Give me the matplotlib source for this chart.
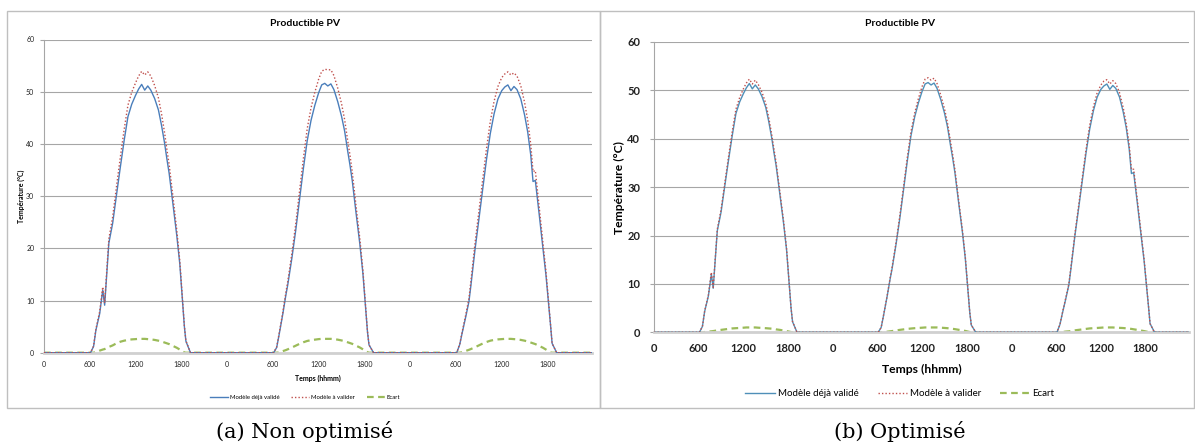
import numpy as np
import matplotlib
matplotlib.use('agg')
import matplotlib.pyplot as plt
from matplotlib.patches import Rectangle

# heures de la journee (meme grille pour les 3 jours)
heures = [0, 6.1, 6.5, 6.8, 7.3, 7.7, 7.95, 8.5, 9.0, 9.5, 10.0, 10.5, 11.0, 11.5, 12.0, 12.4, 12.8,
          13.2, 13.6, 14.0, 14.5, 15.0, 15.4, 15.8, 16.1, 16.4, 16.9, 17.4, 17.8, 18.4, 18.6, 19.2, 24]

# modele deja valide (identique dans les deux graphes)
valide_j1 = [0, 0, 1.2, 4.3, 7.5, 12.0, 9.1, 21.0, 24.8, 30.2, 35.5, 40.6, 45.2, 47.6, 49.3, 50.5, 51.4,
             50.3, 51.1, 50.3, 48.7, 46.5, 43.6, 40.2, 37.2, 34.4, 28.5, 22.5, 17.0, 5.0, 2.2, 0, 0]
valide_j2 = [0, 0, 1.0, 3.3, 7.4, 11.0, 13.0, 18.2, 23.5, 29.4, 35.3, 40.6, 44.5, 47.4, 49.8, 51.3, 51.6,
             51.1, 51.5, 50.4, 48.1, 45.3, 42.5, 38.7, 36.0, 33.0, 26.8, 20.8, 15.2, 4.0, 1.5, 0, 0]
valide_j3 = [0, 0, 1.6, 3.7, 7.0, 9.8, 12.8, 19.8, 25.5, 31.3, 37.0, 42.0, 45.8, 48.6, 50.2, 50.9, 51.3,
             50.2, 51.0, 50.4, 48.6, 45.5, 42.3, 37.9, 32.8, 33.0, 26.6, 20.0, 14.8, 5.2, 1.8, 0, 0]

# (a) non optimise
avalider_a_j1 = [0, 0, 1.3, 4.5, 7.9, 12.6, 9.5, 21.8, 26.0, 31.8, 37.4, 42.7, 47.4, 49.9, 51.7, 53.0, 53.9,
                 53.2, 53.8, 53.0, 51.2, 48.8, 45.8, 42.2, 39.0, 36.1, 29.9, 23.5, 17.6, 5.1, 2.3, 0, 0]
avalider_a_j2 = [0, 0, 1.1, 3.5, 7.7, 11.5, 13.6, 19.1, 24.7, 31.0, 37.2, 42.9, 46.9, 49.9, 52.4, 53.9, 54.3,
                 54.2, 54.2, 53.1, 50.7, 47.7, 44.7, 40.7, 37.9, 34.7, 28.1, 21.8, 15.8, 4.1, 1.5, 0, 0]
avalider_a_j3 = [0, 0, 1.7, 3.9, 7.4, 10.4, 13.6, 21.0, 27.0, 33.1, 39.1, 44.3, 48.2, 51.0, 52.7, 53.4, 53.8,
                 53.2, 53.6, 53.0, 51.1, 47.9, 44.5, 39.9, 34.7, 34.9, 28.0, 21.0, 15.5, 5.3, 1.8, 0, 0]
ecart_a_j1 = [0, 0, 0, 0.1, 0.4, 0.6, 0.7, 1.1, 1.4, 1.8, 2.1, 2.3, 2.45, 2.55, 2.6, 2.65, 2.65,
              2.65, 2.6, 2.55, 2.45, 2.3, 2.15, 1.95, 1.8, 1.65, 1.3, 0.95, 0.6, 0.05, 0, 0, 0]
ecart_a_j2 = [0, 0, 0, 0.05, 0.3, 0.5, 0.65, 1.0, 1.35, 1.7, 2.0, 2.25, 2.4, 2.5, 2.6, 2.65, 2.65,
              2.65, 2.65, 2.6, 2.5, 2.35, 2.2, 2.0, 1.85, 1.7, 1.35, 1.0, 0.65, 0.1, 0, 0, 0]
ecart_a_j3 = [0, 0, 0, 0.1, 0.35, 0.55, 0.7, 1.05, 1.4, 1.75, 2.05, 2.3, 2.45, 2.55, 2.6, 2.65, 2.65,
              2.65, 2.6, 2.55, 2.45, 2.3, 2.15, 1.95, 1.8, 1.65, 1.3, 0.95, 0.6, 0.05, 0, 0, 0]

# (b) optimise
avalider_b_j1 = [0, 0, 1.2, 4.4, 7.7, 12.4, 9.3, 21.3, 25.3, 30.8, 36.2, 41.4, 46.1, 48.5, 50.3, 51.5, 52.3,
                 51.3, 52.1, 51.2, 49.6, 47.3, 44.4, 40.9, 37.9, 35.0, 29.0, 22.9, 17.3, 5.0, 2.2, 0, 0]
avalider_b_j2 = [0, 0, 1.0, 3.4, 7.5, 11.2, 13.3, 18.6, 24.0, 30.0, 36.0, 41.4, 45.3, 48.3, 50.8, 52.3, 52.6,
                 52.1, 52.5, 51.4, 49.0, 46.2, 43.3, 39.5, 36.7, 33.6, 27.3, 21.2, 15.5, 4.1, 1.5, 0, 0]
avalider_b_j3 = [0, 0, 1.6, 3.8, 7.2, 10.0, 13.1, 20.2, 26.0, 31.9, 37.7, 42.8, 46.6, 49.5, 51.1, 51.9, 52.2,
                 51.3, 52.0, 51.4, 49.5, 46.4, 43.1, 38.7, 33.6, 33.7, 27.2, 20.5, 15.1, 5.3, 1.8, 0, 0]
ecart_b_j1 = [0, 0, 0, 0.05, 0.15, 0.2, 0.25, 0.4, 0.5, 0.6, 0.7, 0.8, 0.85, 0.9, 0.95, 1.0, 1.0,
              1.0, 1.0, 0.95, 0.9, 0.85, 0.8, 0.75, 0.7, 0.6, 0.5, 0.35, 0.25, 0.05, 0, 0, 0]
ecart_b_j2 = [0, 0, 0, 0.05, 0.12, 0.2, 0.25, 0.38, 0.5, 0.6, 0.7, 0.78, 0.85, 0.9, 0.95, 1.0, 1.0,
              1.0, 1.0, 1.0, 0.95, 0.9, 0.85, 0.78, 0.72, 0.65, 0.52, 0.4, 0.28, 0.05, 0, 0, 0]
ecart_b_j3 = [0, 0, 0, 0.05, 0.15, 0.2, 0.25, 0.4, 0.5, 0.6, 0.7, 0.8, 0.85, 0.9, 0.95, 1.0, 1.0,
              1.0, 1.0, 0.95, 0.92, 0.88, 0.82, 0.76, 0.7, 0.62, 0.5, 0.36, 0.25, 0.05, 0, 0, 0]

tick_pos = [0, 6, 12, 18, 24, 30, 36, 42, 48, 54, 60, 66]
tick_lab = ['0', '600', '1200', '1800'] * 3

W, H = 1195, 446
plt.rcParams['font.family'] = ['Lato', 'DejaVu Sans']

fig = plt.figure(figsize=(W / 100, H / 100), dpi=100)


def rect(x0, y0, x1, y1):
    return [x0 / W, 1 - y1 / H, (x1 - x0) / W, (y1 - y0) / H]


def jours(*listes):
    return np.concatenate([np.array(l) for l in listes])


t = np.concatenate([np.array(heures) + 24 * d for d in range(3)])
valide = jours(valide_j1, valide_j2, valide_j3)

panels = [
    dict(box=(7, 11, 600, 408), ax=(44, 39.5, 592, 352.7), red=jours(avalider_a_j1, avalider_a_j2, avalider_a_j3),
         ecart=jours(ecart_a_j1, ecart_a_j2, ecart_a_j3), blue='#4A7EBB', tick_fs=5, tick_w='normal',
         lab_fs=5, pad_x=6, pad_y=4, ylab_x=21, xlab_y=378, leg_fs=4.3, leg_y=397, cx=305,
         caption='(a) Non optimisé'),
    dict(box=(600, 11, 1194, 408), ax=(654, 41.9, 1189, 332.3), red=jours(avalider_b_j1, avalider_b_j2, avalider_b_j3),
         ecart=jours(ecart_b_j1, ecart_b_j2, ecart_b_j3), blue='#4F8FB8', tick_fs=8, tick_w='bold',
         lab_fs=8.7, pad_x=8, pad_y=7, ylab_x=619, xlab_y=369, leg_fs=7, leg_y=394, cx=900,
         caption='(b) Optimisé'),
]

for p in panels:
    bx0, by0, bx1, by1 = p['box']
    fig.patches.append(Rectangle((bx0 / W, 1 - by1 / H), (bx1 - bx0) / W, (by1 - by0) / H,
                                 transform=fig.transFigure, fill=False, ec='#BFBFBF', lw=1))
    ax = fig.add_axes(rect(*p['ax']))
    l1, = ax.plot(t, valide, color=p['blue'], lw=1.0, label='Modèle déjà validé', zorder=3)
    l2, = ax.plot(t, p['red'], color='#C0504D', lw=1.0, ls=(0, (1, 1.5)), label='Modèle à valider', zorder=4)
    l3, = ax.plot(t, p['ecart'], color='#9BBB59', lw=1.6, ls=(0, (3, 2)), label='Ecart', zorder=2)
    ax.set_xlim(0, 71.83)
    ax.set_ylim(0, 60)
    ax.set_yticks(range(0, 61, 10))
    ax.set_xticks(tick_pos)
    ax.set_xticklabels(tick_lab)
    ax.grid(axis='y', color='#A6A6A6', lw=0.8)
    ax.set_axisbelow(True)
    for s in ['top', 'right']:
        ax.spines[s].set_visible(False)
    ax.spines['left'].set_color('#A6A6A6')
    ax.spines['bottom'].set_color('#D0D0D0')
    ax.spines['bottom'].set_linewidth(2)
    ax.tick_params(axis='x', length=0, pad=p['pad_x'], labelsize=p['tick_fs'], colors='#222222')
    ax.tick_params(axis='y', length=3, color='#A6A6A6', pad=p['pad_y'], labelsize=p['tick_fs'], colors='#222222')
    for lab in ax.get_xticklabels() + ax.get_yticklabels():
        lab.set_fontweight(p['tick_w'])
    cx = p['cx']
    fig.text(cx / W, 1 - 24 / H, 'Productible PV', ha='center', va='center', fontsize=7.5, fontweight='bold')
    fig.text(p['ylab_x'] / W, 1 - (p['ax'][1] + p['ax'][3]) / 2 / H, 'Température (°C)', rotation=90,
             ha='center', va='center', fontsize=p['lab_fs'], fontweight='bold')
    fig.text(((p['ax'][0] + p['ax'][2]) / 2) / W, 1 - p['xlab_y'] / H, 'Temps (hhmm)', ha='center', va='center',
             fontsize=p['lab_fs'], fontweight='bold')
    fig.legend(handles=[l1, l2, l3], loc='center', bbox_to_anchor=(cx / W, 1 - p['leg_y'] / H), ncol=3,
               frameon=False, fontsize=p['leg_fs'], handlelength=3, columnspacing=2.0, handletextpad=0.3)
    fig.text(cx / W, 1 - 432 / H, p['caption'], ha='center', va='center', fontsize=15, family='DejaVu Serif')

fig.savefig('out.png', dpi=100)
